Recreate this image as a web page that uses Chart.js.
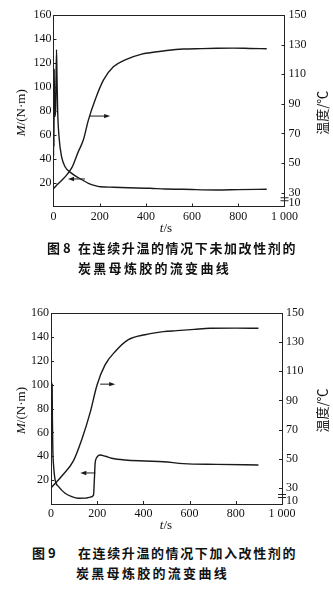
<!DOCTYPE html>
<html><head><meta charset="utf-8">
<script src="https://cdn.jsdelivr.net/npm/chart.js@4/dist/chart.umd.min.js"></script>
<style>
html,body{margin:0;padding:0;background:#fff;width:333px;height:590px;overflow:hidden;}
.wrap{position:absolute;left:0;width:333px;height:240px;}
.cap{position:absolute;font-family:"Noto Sans CJK SC";font-weight:bold;font-size:13px;color:#111;white-space:nowrap;line-height:16px;}
</style></head><body>
<div class="wrap" style="top:0"><canvas id="c1" width="333" height="240"></canvas></div>
<div class="wrap" style="top:295px"><canvas id="c2" width="333" height="240"></canvas></div>
<div class="cap" style="top:240px;left:47px;">图 8</div>
<div class="cap" style="top:240px;left:78px;letter-spacing:1.6px;">在连续升温的情况下未加改性剂的</div>
<div class="cap" style="top:260px;left:78px;letter-spacing:2.3px;">炭黑母炼胶的流变曲线</div>
<div class="cap" style="top:545px;left:32px;">图 9</div>
<div class="cap" style="top:545px;left:78px;letter-spacing:1.6px;">在连续升温的情况下加入改性剂的</div>
<div class="cap" style="top:565px;left:76px;letter-spacing:2.3px;">炭黑母炼胶的流变曲线</div>
<script>
// ---- tick labels ----
const xTicks = [0, 200, 400, 600, 800, 1000];
const xTickLabels = ['0', '200', '400', '600', '800', '1 000'];
const leftTicks = [20, 40, 60, 80, 100, 120, 140, 160];
const rightTickLabels = ['10', '30', '50', '70', '90', '110', '130', '150'];
const rightTickValues8 = [23, 30, 50, 70, 90, 110, 130, 150];   // "10" sits just above the axis break
const rightTickValues9 = [21.5, 30, 50, 70, 90, 110, 130, 150];

// ---- Fig. 8 (no modifier) ----
const fig8TempTime = [0, 20, 50, 80, 107, 129, 151, 180, 216, 259, 310, 382, 418, 490, 561, 640, 706, 778, 850, 923];
const fig8Temp     = [32.7, 36, 40.6, 47, 57.5, 65.5, 79, 92.6, 106, 115, 119.7, 123.6, 124.5, 126, 127, 127.3, 127.5, 127.6, 127.4, 127.2];
const fig8TorqueTime = [0, 1, 2, 3, 5, 9, 13, 15, 18, 24, 35, 50, 79, 108, 151, 180, 203, 260, 324, 418, 483, 561, 706, 800, 923];
const fig8Torque     = [42, 112, 50, 115, 75, 80, 131, 110, 80, 58, 41.6, 33.2, 27.7, 24, 19.4, 17.4, 16.5, 16.1, 15.7, 15.2, 14.6, 14.4, 13.8, 14.1, 14.4];

// ---- Fig. 9 (with modifier) ----
const fig9TempTime = [0, 47, 97, 134, 170, 199, 234, 278, 335, 407, 487, 544, 620, 689, 800, 898];
const fig9Temp     = [30, 38.2, 48.6, 63.6, 82, 100.5, 114.4, 123.6, 131.7, 135.1, 137.2, 137.9, 138.8, 139.5, 139.6, 139.5];
const fig9TorqueTime = [0, 1, 2, 3, 4, 5, 6, 8, 11, 18, 33, 61, 90, 119, 150, 170, 184, 188, 191, 197, 203, 213, 235, 263, 321, 407, 487, 573, 718, 898];
const fig9Torque     = [50, 103, 68, 102, 66, 100, 72, 45, 32.7, 20, 14.5, 9, 6.1, 4.8, 4.9, 5.8, 7.5, 21.5, 34, 38.5, 40.2, 41, 40, 38.3, 36.8, 36, 35.4, 33.8, 33.2, 32.7];

// ---- annotation arrows (data units) ----
const fig8Arrows = [{axis: 'yR', from: 154, to: 245, value: 81.7}, {axis: 'yL', from: 136, to: 63, value: 23}];
const fig9Arrows = [{axis: 'yR', from: 213, to: 278, value: 101.2}, {axis: 'yL', from: 192, to: 127, value: 26}];

const pts = (xs, ys) => xs.map((x, i) => ({x, y: ys[i]}));
const SERIF = '"Liberation Serif", "DejaVu Serif", serif';
const INK = '#1a1a1a';

const decor = {
  id: 'decor',
  afterDraw(chart, args, o) {
    const {ctx, chartArea: a, scales} = chart;
    const xs = scales.x, yl = scales.yL, yr = scales.yR;
    ctx.save();
    ctx.strokeStyle = '#222'; ctx.lineWidth = 1;
    ctx.beginPath();
    ctx.moveTo(a.left, a.top + 0.5); ctx.lineTo(a.right, a.top + 0.5);
    xs.ticks.forEach(t => { if (t.value > 0 && t.value < 1000) { const p = Math.round(xs.getPixelForValue(t.value)) + 0.5; ctx.moveTo(p, a.bottom); ctx.lineTo(p, a.bottom - 3); } });
    yl.ticks.forEach(t => { const p = Math.round(yl.getPixelForValue(t.value)) + 0.5; ctx.moveTo(a.left, p); ctx.lineTo(a.left + 3, p); });
    yr.ticks.forEach((t, i) => { if (i > 0) { const p = Math.round(yr.getPixelForValue(t.value)) + 0.5; ctx.moveTo(a.right, p); ctx.lineTo(a.right - 3, p); } });
    ctx.stroke();
    // axis break mark on right axis
    const b = yr.getPixelForValue(o.breakAt);
    ctx.lineWidth = 1.2;
    ctx.beginPath();
    ctx.moveTo(a.right - 4, b - 1.5); ctx.lineTo(a.right + 4, b - 1.5);
    ctx.moveTo(a.right - 4, b + 1.5); ctx.lineTo(a.right + 4, b + 1.5);
    ctx.stroke();
    // arrows
    ctx.strokeStyle = INK; ctx.fillStyle = INK; ctx.lineWidth = 1;
    o.arrows.forEach(ar => {
      const sc = scales[ar.axis];
      const y = sc.getPixelForValue(ar.value);
      const x1 = xs.getPixelForValue(ar.from), x2 = xs.getPixelForValue(ar.to);
      const dir = Math.sign(x2 - x1);
      ctx.beginPath(); ctx.moveTo(x1, y); ctx.lineTo(x2 - dir * 4, y); ctx.stroke();
      ctx.beginPath(); ctx.moveTo(x2, y); ctx.lineTo(x2 - dir * 6, y - 2.2); ctx.lineTo(x2 - dir * 6, y + 2.2); ctx.closePath(); ctx.fill();
    });
    // titles
    ctx.fillStyle = '#111';
    ctx.textBaseline = 'middle';
    const mixed = (parts, cx, cy, rot) => {
      ctx.save(); ctx.translate(cx, cy); ctx.rotate(rot);
      let total = 0;
      parts.forEach(p => { ctx.font = p[1]; total += ctx.measureText(p[0]).width; });
      let x = -total / 2;
      ctx.textAlign = 'left';
      parts.forEach(p => { ctx.font = p[1]; ctx.fillText(p[0], x, 0); x += ctx.measureText(p[0]).width; });
      ctx.restore();
    };
    const cy = (a.top + a.bottom) / 2 + 2;
    mixed([['M', 'italic 13px ' + SERIF], ['/(N·m)', '13px ' + SERIF]], 22, cy, -Math.PI / 2);
    mixed([['温度/℃', '13px "Noto Sans CJK SC"']], 322, cy, -Math.PI / 2);
    mixed([['t', 'italic 13px ' + SERIF], ['/s', '13px ' + SERIF]], 166, a.bottom + 22, 0);
    ctx.restore();
  }
};

function makeChart(id, geo, tempT, temp, torT, tor, rTicks, rMin, arrows, breakAt) {
  const H = 240;
  const tickFont = {family: SERIF, size: 12};
  return new Chart(document.getElementById(id), {
    type: 'line',
    data: {
      datasets: [
        {data: pts(torT, tor), yAxisID: 'yL', borderColor: INK, borderWidth: 1.4, pointRadius: 0, cubicInterpolationMode: 'monotone', fill: false},
        {data: pts(tempT, temp), yAxisID: 'yR', borderColor: INK, borderWidth: 1.4, pointRadius: 0, cubicInterpolationMode: 'monotone', fill: false}
      ]
    },
    options: {
      responsive: false, animation: false, events: [],
      layout: {padding: {top: geo.top, left: 0, right: 0, bottom: 0}},
      plugins: {legend: {display: false}, tooltip: {enabled: false}, decor: {arrows, breakAt}},
      scales: {
        x: {
          type: 'linear', min: 0, max: 1000,
          afterBuildTicks: s => { s.ticks = xTicks.map(v => ({value: v})); },
          ticks: {callback: (v, i) => xTickLabels[i], font: tickFont, color: '#111', padding: 3, maxRotation: 0, autoSkip: false},
          grid: {display: false, drawTicks: false},
          border: {display: true, color: '#222', width: 1},
          afterFit: s => { s.height = H - geo.bottom; }
        },
        yL: {
          type: 'linear', position: 'left', min: 0, max: 160,
          afterBuildTicks: s => { s.ticks = leftTicks.map(v => ({value: v})); },
          ticks: {font: tickFont, color: '#111', padding: 2, autoSkip: false},
          grid: {display: false, drawTicks: false},
          border: {display: true, color: '#222', width: 1},
          afterFit: s => { s.width = geo.left; }
        },
        yR: {
          type: 'linear', position: 'right', min: rMin, max: 150,
          afterBuildTicks: s => { s.ticks = rTicks.map(v => ({value: v})); },
          ticks: {callback: (v, i) => rightTickLabels[i], font: tickFont, color: '#111', padding: 4, autoSkip: false},
          grid: {display: false, drawTicks: false},
          border: {display: true, color: '#222', width: 1},
          afterFit: s => { s.width = 333 - geo.right; }
        }
      }
    },
    plugins: [decor]
  });
}

makeChart('c1', {top: 15, bottom: 206.5, left: 53.5, right: 284.5}, fig8TempTime, fig8Temp, fig8TorqueTime, fig8Torque, rightTickValues8, 20.6, fig8Arrows, 25.5);
makeChart('c2', {top: 18, bottom: 209, left: 51, right: 282}, fig9TempTime, fig9Temp, fig9TorqueTime, fig9Torque, rightTickValues9, 19, fig9Arrows, 24.5);
</script>
</body></html>
